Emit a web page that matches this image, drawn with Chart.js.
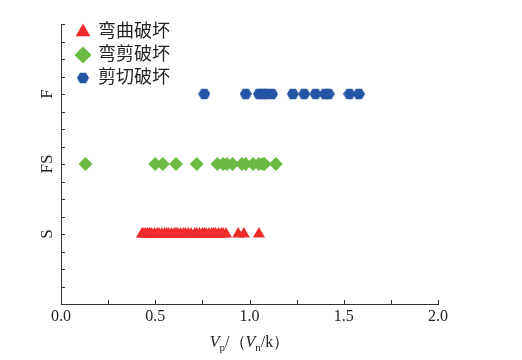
<!DOCTYPE html>
<html>
<head>
<meta charset="utf-8">
<script src="https://cdn.jsdelivr.net/npm/chart.js@4"></script>
<style>
  html, body { margin: 0; padding: 0; background: #fff; }
  #wrap { width: 522px; height: 360px; }
</style>
</head>
<body>
<div id="wrap"><canvas id="chart"></canvas></div>
<script>
// failure mode labels on the y axis
const modeLabels = ['S', 'FS', 'F'];
const modeLevels = [1, 2, 3];

// Vp/(Vn/k) values
const bendingX = [0.43, 0.44, 0.45, 0.46, 0.47, 0.48, 0.495, 0.51, 0.52, 0.535, 0.55, 0.56,
                  0.57, 0.585, 0.60, 0.61, 0.62, 0.635, 0.65, 0.66, 0.675, 0.69, 0.71,
                  0.72, 0.735, 0.75, 0.76, 0.77, 0.785, 0.80, 0.81, 0.82, 0.835, 0.85,
                  0.86, 0.875, 0.94, 0.97, 1.05];
const bendShearX = [0.13, 0.50, 0.54, 0.61, 0.72, 0.83, 0.86, 0.88, 0.91, 0.96, 0.98,
                    1.02, 1.05, 1.07, 1.08, 1.14];
const shearX = [0.76, 0.98, 1.05, 1.07, 1.09, 1.12, 1.23, 1.29, 1.35, 1.40, 1.42, 1.53, 1.58];

const xTickValues = [0, 0.25, 0.5, 0.75, 1, 1.25, 1.5, 1.75, 2];

const red = '#ee2c2c';
const green = '#6cb943';
const blue = '#2556a6';
const axisColor = '#333';
const serif = '"Liberation Serif", "DejaVu Serif", serif';

function hexagonCanvas(size, color) {
    const c = document.createElement('canvas');
    c.width = size; c.height = size;
    const g = c.getContext('2d');
    const r = size / 2;
    g.fillStyle = color;
    g.beginPath();
    for (let i = 0; i < 6; i++) {
        const a = Math.PI / 6 + i * Math.PI / 3 - Math.PI / 2;
        const px = r + r * Math.cos(a);
        const py = r + r * Math.sin(a);
        if (i === 0) g.moveTo(px, py); else g.lineTo(px, py);
    }
    g.closePath();
    g.fill();
    return c;
}
const hexImg = hexagonCanvas(12, blue);

function toPoints(xs, level) {
    return xs.map(x => ({ x: x, y: level }));
}

// move the legend down/right into the plot corner
const legendShift = {
    id: 'legendShift',
    afterLayout(chart) {
        const lg = chart.legend;
        if (!lg) return;
        lg.top += 18; lg.bottom += 18;
        lg.left += 11; lg.right += 11;
    }
};

const axesDecor = {
    id: 'axesDecor',
    afterDraw(chart) {
        const ctx = chart.ctx;
        const xs = chart.scales.x;
        const ys = chart.scales.y;
        const area = chart.chartArea;
        ctx.save();
        ctx.strokeStyle = axisColor;
        ctx.lineWidth = 1;
        // inward ticks
        ctx.beginPath();
        ys.ticks.forEach(t => {
            const py = Math.round(ys.getPixelForValue(t.value)) + 0.5;
            ctx.moveTo(area.left, py);
            ctx.lineTo(area.left + 4, py);
        });
        xTickValues.forEach(v => {
            const px = Math.round(xs.getPixelForValue(v)) + 0.5;
            ctx.moveTo(px, area.bottom);
            ctx.lineTo(px, area.bottom - 4);
        });
        ctx.stroke();

        // rotated category labels
        ctx.fillStyle = '#222';
        ctx.font = '17px ' + serif;
        ctx.textAlign = 'center';
        ctx.textBaseline = 'middle';
        modeLabels.forEach((lab, i) => {
            const py = ys.getPixelForValue(modeLevels[i]);
            ctx.save();
            ctx.translate(area.left - 13, py);
            ctx.rotate(-Math.PI / 2);
            ctx.fillText(lab, 0, 0);
            ctx.restore();
        });

        // x axis title: Vp/（Vn/k）
        const parts = [
            { t: 'V', f: 'italic 16px ' + serif, dy: 0 },
            { t: 'p', f: '11px ' + serif, dy: 4 },
            { t: '/（', f: '16px ' + serif, dy: 0 },
            { t: 'V', f: 'italic 16px ' + serif, dy: 0 },
            { t: 'n', f: '11px ' + serif, dy: 4 },
            { t: '/k）', f: '16px ' + serif, dy: 0 }
        ];
        let total = 0;
        parts.forEach(p => { ctx.font = p.f; total += ctx.measureText(p.t).width; });
        let cx = (area.left + area.right) / 2 - total / 2;
        const baseY = 347;
        ctx.textAlign = 'left';
        ctx.textBaseline = 'alphabetic';
        parts.forEach(p => {
            ctx.font = p.f;
            ctx.fillText(p.t, cx, baseY + p.dy);
            cx += ctx.measureText(p.t).width;
        });
        ctx.restore();
    }
};

new Chart(document.getElementById('chart'), {
    type: 'scatter',
    data: {
        datasets: [
            {
                label: '弯曲破坏',
                data: toPoints(bendingX, modeLevels[0]),
                pointStyle: 'triangle',
                radius: 7,
                backgroundColor: red,
                borderColor: red,
                borderWidth: 0
            },
            {
                label: '弯剪破坏',
                data: toPoints(bendShearX, modeLevels[1]),
                pointStyle: 'rectRot',
                radius: 7,
                backgroundColor: green,
                borderColor: green,
                borderWidth: 0
            },
            {
                label: '剪切破坏',
                data: toPoints(shearX, modeLevels[2]),
                pointStyle: hexImg,
                radius: 6,
                backgroundColor: blue,
                borderColor: blue,
                borderWidth: 0
            }
        ]
    },
    options: {
        responsive: true,
        maintainAspectRatio: false,
        animation: false,
        layout: { padding: { left: 0, right: 84, top: 24, bottom: 0 } },
        plugins: {
            tooltip: { enabled: false },
            legend: {
                position: 'chartArea',
                align: 'start',
                labels: {
                    usePointStyle: true,
                    boxWidth: 12,
                    boxHeight: 12,
                    padding: 5,
                    color: '#222',
                    font: { family: serif + ', "Noto Sans CJK SC"', size: 18 }
                }
            }
        },
        scales: {
            x: {
                type: 'linear',
                min: 0,
                max: 2,
                grid: { display: false, drawTicks: false },
                border: { display: true, color: axisColor, width: 1 },
                ticks: {
                    stepSize: 0.5,
                    padding: 3,
                    color: '#222',
                    font: { family: serif, size: 16 },
                    callback: v => v.toFixed(1)
                },
                afterFit(scale) { scale.height = 56; }
            },
            y: {
                type: 'linear',
                min: 0,
                max: 4,
                grid: { display: false, drawTicks: false },
                border: { display: true, color: axisColor, width: 1 },
                ticks: { display: false, stepSize: 0.25 },
                afterFit(scale) { scale.width = 61; }
            }
        }
    },
    plugins: [legendShift, axesDecor]
});
</script>
</body>
</html>
